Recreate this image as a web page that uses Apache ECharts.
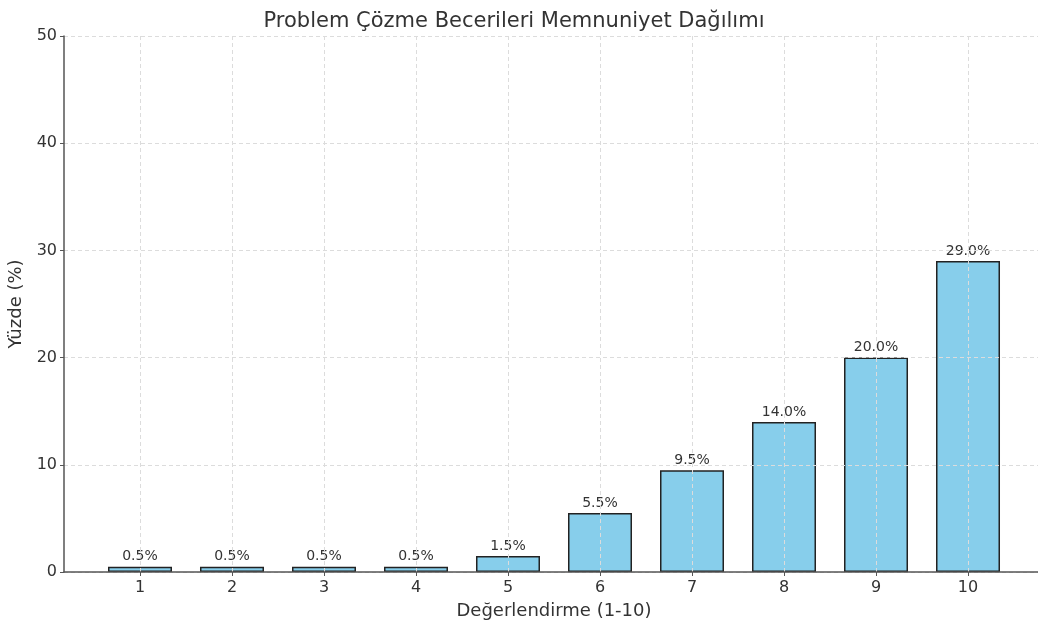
<!DOCTYPE html>
<html><head><meta charset="utf-8">
<script src="https://cdn.jsdelivr.net/npm/echarts@6/dist/echarts.min.js"></script>
<style>html,body{margin:0;padding:0;background:#fff;overflow:hidden}#c{width:1038px;height:624px}</style>
</head><body><div id="c"></div>
<script>
const ratings = [1, 2, 3, 4, 5, 6, 7, 8, 9, 10];
const percents = [0.5, 0.5, 0.5, 0.5, 1.5, 5.5, 9.5, 14.0, 20.0, 29.0];
const yTicks = [0, 10, 20, 30, 40, 50];
const titleText = 'Problem Çözme Becerileri Memnuniyet Dağılımı';
const xName = 'Değerlendirme (1-10)';
const yName = 'Yüzde (%)';

const font = 'DejaVu Sans';
const chart = echarts.init(document.getElementById('c'), null, {renderer: 'canvas'});
chart.setOption({
  animation: false,
  textStyle: {fontFamily: font},
  title: {text: titleText, left: 509, top: 6, textAlign: 'center',
    textStyle: {fontFamily: font, fontSize: 21, fontWeight: 'normal', color: '#333'}},
  grid: {left: 64, top: 36, width: 980, height: 536, containLabel: false, outerBoundsMode: 'none'},
  xAxis: {
    type: 'value', min: 0.174, max: 10.826, z: 5,
    name: xName, nameLocation: 'middle', nameGap: 30,
    nameTextStyle: {fontSize: 18, color: '#333', fontFamily: font},
    axisLine: {show: true, lineStyle: {color: '#555', width: 1.5}},
    axisTick: {show: true, length: 4, customValues: ratings, lineStyle: {color: '#555'}},
    axisLabel: {customValues: ratings, fontSize: 16, color: '#333', margin: 8, fontFamily: font},
    splitLine: {show: true, lineStyle: {type: [4, 3], color: '#dcdcdc', width: 1}}
  },
  yAxis: {
    type: 'value', min: 0, max: 50, interval: 10, z: 5,
    name: yName, nameLocation: 'middle', nameGap: 39,
    nameTextStyle: {fontSize: 18, color: '#333', fontFamily: font},
    axisLine: {show: true, lineStyle: {color: '#555', width: 1.5}},
    axisTick: {show: true, length: 4, lineStyle: {color: '#555'}},
    axisLabel: {fontSize: 16, color: '#333', margin: 7, fontFamily: font},
    splitLine: {show: true, lineStyle: {type: [4, 3], color: '#dcdcdc', width: 1}}
  },
  series: [{
    type: 'bar', barWidth: 64, z: 2,
    data: ratings.map((r, i) => [r, percents[i]]),
    itemStyle: {color: '#87CEEB', borderColor: '#222', borderWidth: 1.5},
    label: {show: true, position: 'top', distance: 3, fontSize: 14, color: '#333', fontFamily: font,
      formatter: p => p.value[1].toFixed(1) + '%'}
  }]
});
</script></body></html>
